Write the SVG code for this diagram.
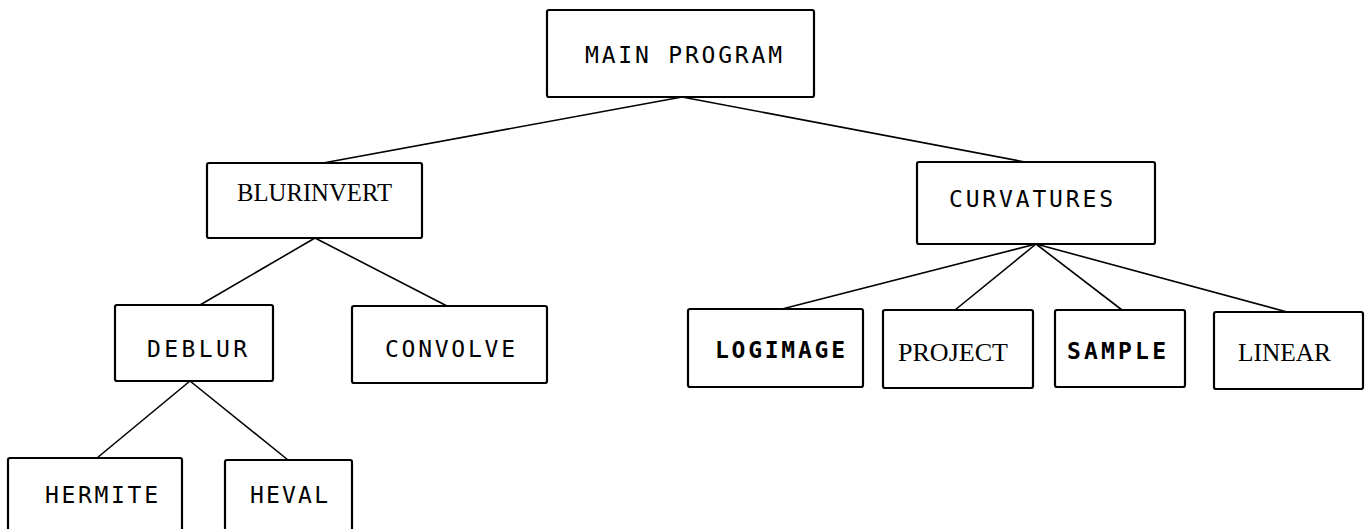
<svg xmlns="http://www.w3.org/2000/svg" width="1365" height="529" viewBox="0 0 1365 529">
<style>
.box{fill:#fff;stroke:#000;stroke-width:2.2}
.ln{stroke:#000;stroke-width:1.6;fill:none}
.tw{font-family:"DejaVu Sans Mono","Liberation Mono",monospace;font-size:23px;fill:#000}
.twb{font-family:"DejaVu Sans Mono","Liberation Mono",monospace;font-size:23px;font-weight:bold;fill:#000}
.sf{font-family:"Liberation Serif","Times New Roman",serif;font-size:26px;fill:#000}
</style>
<rect width="1365" height="529" fill="#fff"/>
<g id="connectors">
<line class="ln" x1="682" y1="97" x2="323" y2="163"/>
<line class="ln" x1="682" y1="97" x2="1025" y2="162"/>
<line class="ln" x1="315" y1="238" x2="200" y2="305"/>
<line class="ln" x1="315" y1="238" x2="447" y2="306"/>
<line class="ln" x1="190" y1="381" x2="97" y2="458"/>
<line class="ln" x1="190" y1="381" x2="288" y2="460"/>
<line class="ln" x1="1036" y1="244" x2="782" y2="309"/>
<line class="ln" x1="1036" y1="244" x2="955" y2="310"/>
<line class="ln" x1="1036" y1="244" x2="1122" y2="310"/>
<line class="ln" x1="1036" y1="244" x2="1287" y2="312"/>
</g>
<g id="main">
<rect class="box" x="547" y="10" width="267" height="87" rx="2"/>
<text class="tw" x="585" y="63" textLength="197" lengthAdjust="spacing">MAIN PROGRAM</text>
</g>
<g id="blurinvert">
<rect class="box" x="207" y="163" width="215" height="75" rx="2"/>
<text class="sf" x="237" y="201" textLength="155" lengthAdjust="spacingAndGlyphs">BLURINVERT</text>
</g>
<g id="curvatures">
<rect class="box" x="917" y="162" width="238" height="82" rx="2"/>
<text class="tw" x="949" y="207" textLength="164" lengthAdjust="spacing">CURVATURES</text>
</g>
<g id="deblur">
<rect class="box" x="115" y="305" width="158" height="76" rx="2"/>
<text class="tw" x="147" y="357" textLength="100" lengthAdjust="spacing">DEBLUR</text>
</g>
<g id="convolve">
<rect class="box" x="352" y="306" width="195" height="77" rx="2"/>
<text class="tw" x="385" y="357" textLength="130" lengthAdjust="spacing">CONVOLVE</text>
</g>
<g id="hermite">
<rect class="box" x="8" y="458" width="174" height="90" rx="2"/>
<text class="tw" x="45" y="503" textLength="113" lengthAdjust="spacing">HERMITE</text>
</g>
<g id="heval">
<rect class="box" x="225" y="460" width="127" height="90" rx="2"/>
<text class="tw" x="250" y="503" textLength="78" lengthAdjust="spacing">HEVAL</text>
</g>
<g id="logimage">
<rect class="box" x="688" y="309" width="175" height="78" rx="2"/>
<text class="twb" x="715" y="358" textLength="130" lengthAdjust="spacing">LOGIMAGE</text>
</g>
<g id="project">
<rect class="box" x="883" y="310" width="150" height="78" rx="2"/>
<text class="sf" x="898" y="361" textLength="110" lengthAdjust="spacingAndGlyphs">PROJECT</text>
</g>
<g id="sample">
<rect class="box" x="1055" y="310" width="130" height="77" rx="2"/>
<text class="twb" x="1067" y="359" textLength="99" lengthAdjust="spacing">SAMPLE</text>
</g>
<g id="linear">
<rect class="box" x="1214" y="312" width="149" height="77" rx="2"/>
<text class="sf" x="1238" y="361" textLength="93" lengthAdjust="spacingAndGlyphs">LINEAR</text>
</g>
</svg>
